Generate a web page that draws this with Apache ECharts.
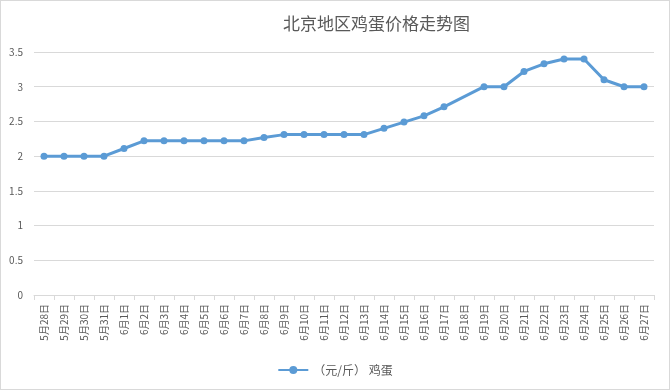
<!DOCTYPE html>
<html><head><meta charset="utf-8">
<script src="https://cdn.jsdelivr.net/npm/echarts@6/dist/echarts.min.js"></script>
<style>html,body{margin:0;padding:0;background:#fff}#c{width:670px;height:390px;box-sizing:border-box;border:1px solid #d9d9d9}</style>
</head><body><div id="c"></div>
<script>
var categories = ['5月28日','5月29日','5月30日','5月31日','6月1日','6月2日','6月3日','6月4日','6月5日','6月6日','6月7日','6月8日','6月9日','6月10日','6月11日','6月12日','6月13日','6月14日','6月15日','6月16日','6月17日','6月18日','6月19日','6月20日','6月21日','6月22日','6月23日','6月24日','6月25日','6月26日','6月27日'];
var prices = [2.0,2.0,2.0,2.0,2.11,2.22,2.22,2.22,2.22,2.22,2.22,2.27,2.31,2.31,2.31,2.31,2.31,2.4,2.49,2.58,2.71,null,3.0,3.0,3.22,3.33,3.4,3.4,3.1,3.0,3.0];
var yTicks = {min:0, max:3.5, interval:0.5};
var seriesName = '（元/斤） 鸡蛋';
var chart = echarts.init(document.getElementById('c'));
var font = '"Noto Sans CJK SC", "Microsoft YaHei", sans-serif';
chart.setOption({
  animation:false,
  title:{text:'北京地区鸡蛋价格走势图', left:277, top:9, textStyle:{fontSize:17, fontWeight:'normal', color:'#595959', fontFamily:font}},
  grid:{left:33, right:15, top:51, bottom:94, containLabel:false},
  legend:{bottom:8, left:'center', itemWidth:30, itemHeight:10, itemGap:10, textStyle:{color:'#595959', fontSize:12, fontFamily:font}, data:[seriesName]},
  xAxis:{type:'category', data:categories, boundaryGap:true,
    axisLine:{lineStyle:{color:'#d9d9d9'}}, axisTick:{show:true, length:5, lineStyle:{color:'#d9d9d9'}},
    axisLabel:{rotate:90, interval:0, fontSize:10, color:'#595959', fontFamily:font, margin:9}},
  yAxis:{type:'value', min:yTicks.min, max:yTicks.max, interval:yTicks.interval,
    axisLine:{show:false}, axisTick:{show:false},
    splitLine:{lineStyle:{color:'#d9d9d9'}},
    axisLabel:{fontSize:10, color:'#595959', fontFamily:font, margin:11}},
  series:[{name:seriesName, type:'line', data:prices, connectNulls:true,
    symbol:'circle', symbolSize:7, lineStyle:{width:3, color:'#5b9bd5'}, itemStyle:{color:'#5b9bd5'}}]
});
</script></body></html>
